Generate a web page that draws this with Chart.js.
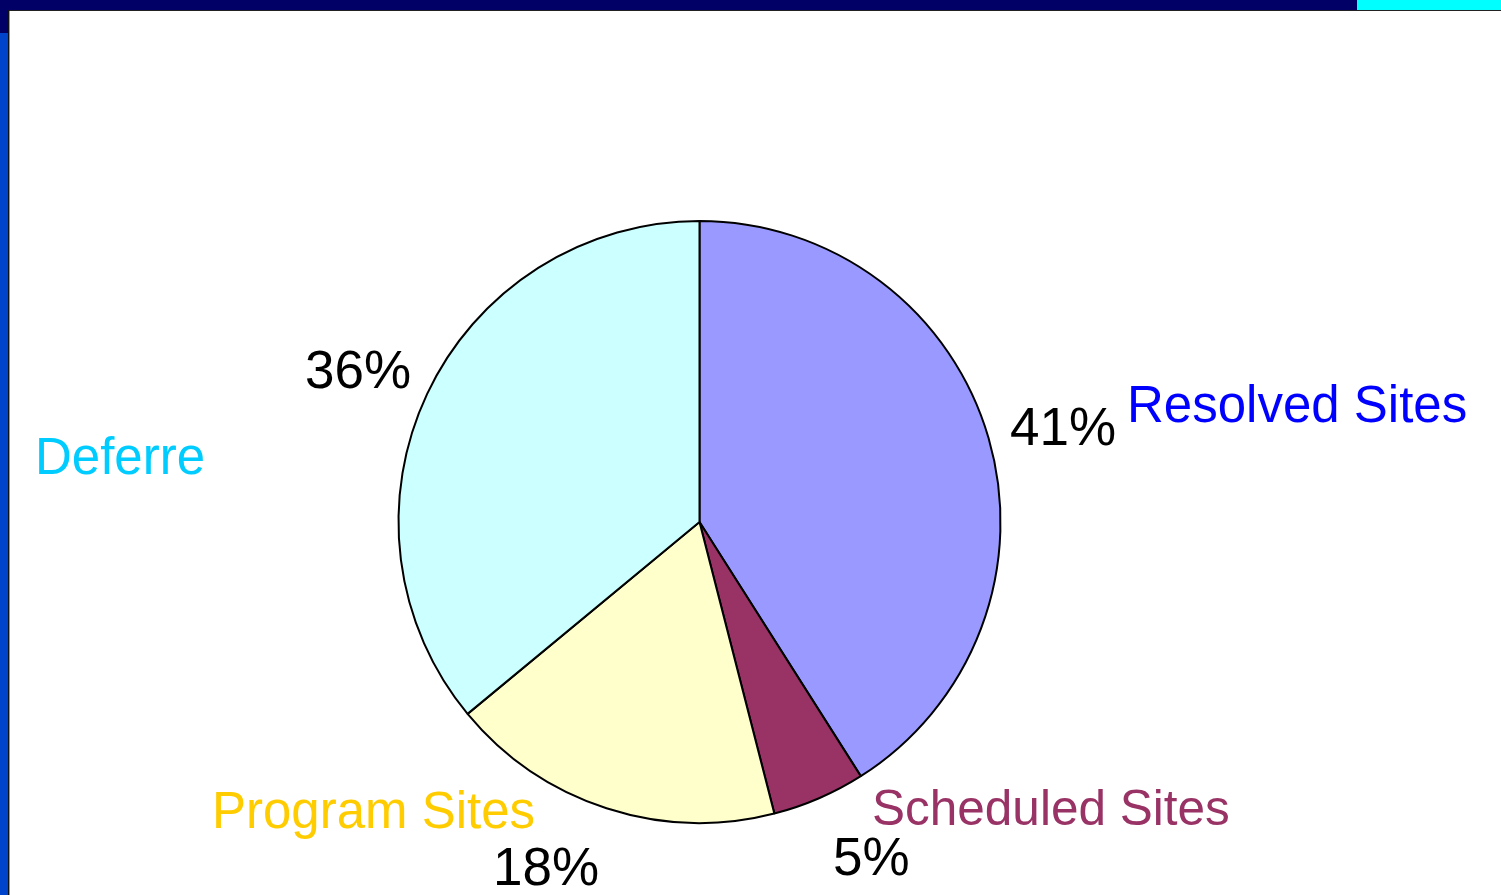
<!DOCTYPE html>
<html lang="en">
<head>
<meta charset="utf-8">
<title>Sites</title>
<script src="https://cdn.jsdelivr.net/npm/chart.js@4.4.1/dist/chart.umd.min.js"></script>
<style>
  html, body { margin: 0; padding: 0; background: #fff; overflow: hidden; }
  #wrap { position: relative; width: 1501px; height: 895px; }
  .bar { position: absolute; }
  canvas { position: absolute; left: 0; top: 0; }
</style>
</head>
<body>
<div id="wrap">
  <div class="bar" style="left:0;top:0;width:1357px;height:10px;background:#000066"></div>
  <div class="bar" style="left:1357px;top:0;width:144px;height:10px;background:#00FFFF"></div>
  <div class="bar" style="left:0;top:10px;width:1501px;height:1px;background:#222"></div>
  <div class="bar" style="left:0;top:0;width:8px;height:33px;background:#000066"></div>
  <div class="bar" style="left:0;top:33px;width:8px;height:862px;background:#0044CC"></div>
  <div class="bar" style="left:8px;top:10px;width:1px;height:885px;background:#111"></div>
  <div class="bar" style="left:9px;top:11px;width:1px;height:884px;background:#999"></div>
  <canvas id="myChart" width="1501" height="895"></canvas>
</div>

<script>
// data
var labels = ["Resolved Sites", "Scheduled Sites", "Program Sites", "Deferre"];
var values = [41, 5, 18, 36];
var sliceColors = ["#9999FF", "#993366", "#FFFFCC", "#CCFFFF"];
var labelColors = ["#0000FF", "#993366", "#FFCC00", "#00CCFF"];

// where the category names and percentages sit (text only)
var namePos = [[1127, 422], [872, 825], [212, 828], [35, 474]];
var nameSize = [51, 49.5, 51, 51];
var pctPos = [[1010, 445], [833, 875], [493, 885], [305, 388]];

var textPlugin = {
    id: "sliceText",
    afterDraw: function (chart) {
        var ctx = chart.ctx;
        var total = values.reduce(function (a, b) { return a + b; }, 0);
        ctx.save();
        ctx.textAlign = "left";
        ctx.textBaseline = "alphabetic";
        for (var i = 0; i < labels.length; i++) {
            ctx.font = nameSize[i] + "px 'Liberation Sans', Arial, sans-serif";
            ctx.fillStyle = labelColors[i];
            ctx.fillText(labels[i], namePos[i][0], namePos[i][1]);
            ctx.font = "53px 'Liberation Sans', Arial, sans-serif";
            ctx.fillStyle = "#000";
            ctx.fillText(Math.round(values[i] / total * 100) + "%", pctPos[i][0], pctPos[i][1]);
        }
        ctx.restore();
    }
};

var ctx = document.getElementById("myChart").getContext("2d");
var myChart = new Chart(ctx, {
    type: "pie",
    data: {
        labels: labels,
        datasets: [{
            data: values,
            backgroundColor: sliceColors,
            borderColor: "#000",
            borderWidth: 2,
            borderAlign: "center"
        }]
    },
    options: {
        responsive: false,
        animation: false,
        radius: 301,
        layout: { padding: { left: 0, right: 102, top: 149, bottom: 0 } },
        plugins: {
            legend: { display: false },
            tooltip: { enabled: false }
        }
    },
    plugins: [textPlugin]
});
</script>
</body>
</html>
